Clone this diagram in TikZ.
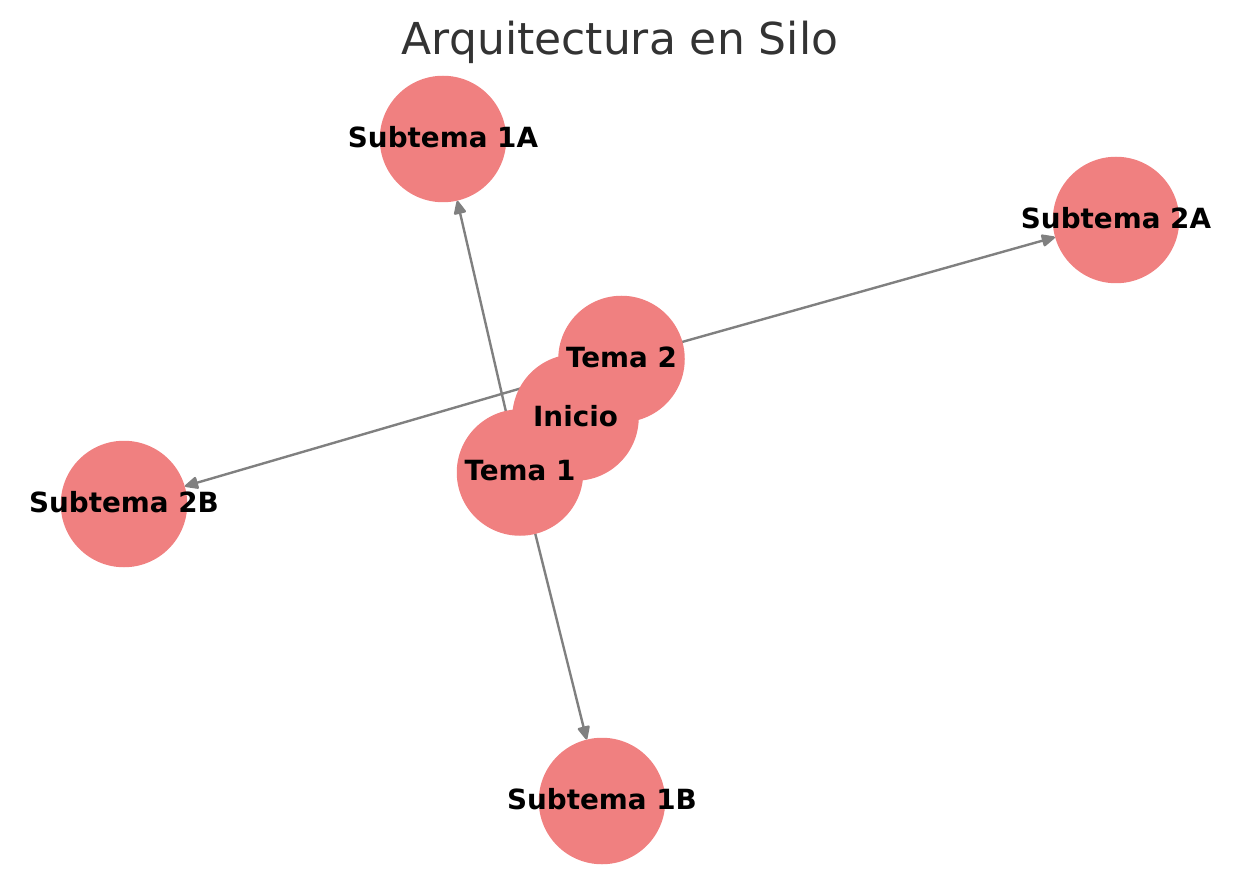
\documentclass[tikz,border=0pt]{standalone}
\usepackage{fontspec}
\setmainfont{DejaVu Sans}
\usetikzlibrary{arrows.meta}
\definecolor{nodefill}{HTML}{F08080}
\definecolor{edgegray}{HTML}{808080}
\definecolor{titlegray}{HTML}{333333}
\begin{document}
\begin{tikzpicture}[x=1pt,y=-1pt,
  vertex/.style={circle,fill=nodefill,minimum size=126.5pt,inner sep=0pt},
  vlabel/.style={font=\fontsize{27.8}{30}\selectfont\bfseries,text=black,inner sep=0pt,yshift=1.5pt},
  link/.style={draw=edgegray,line width=2.4pt,-{Triangle[length=15pt,width=13pt,round]}}]
\useasboundingbox (0,0) rectangle (1239,890);
\node[font=\fontsize{44}{48}\selectfont,text=titlegray,inner sep=0pt] (title) at (620,42) {Arquitectura en Silo};
% circles (drawing order matters: Tema 2, Inicio, Tema 1)
\node[vertex] (s1a) at (443,139) {};
\node[vertex] (s2a) at (1116,220) {};
\node[vertex] (s2b) at (124,504) {};
\node[vertex] (s1b) at (602,801) {};
\coordinate (c2) at (621.5,359);
\coordinate (c1) at (520,472.5);
\coordinate (c0) at (575.5,417.5);
% edges below the nodes
\path[link] (c1) -- (s1a);
\path[link] (c1) -- (s1b);
\path[link] (c2) -- (s2a);
\path[link] (c2) -- (s2b);
\node[vertex] (t2) at (c2) {};
\node[vertex] (ini) at (c0) {};
\node[vertex] (t1) at (c1) {};
% labels
\node[vlabel] at (s1a) {Subtema 1A};
\node[vlabel] at (s2a) {Subtema 2A};
\node[vlabel] at (s2b) {Subtema 2B};
\node[vlabel] at (s1b) {Subtema 1B};
\node[vlabel] at (t2) {Tema 2};
\node[vlabel] at (ini) {Inicio};
\node[vlabel] at (t1) {Tema 1};
\end{tikzpicture}
\end{document}
